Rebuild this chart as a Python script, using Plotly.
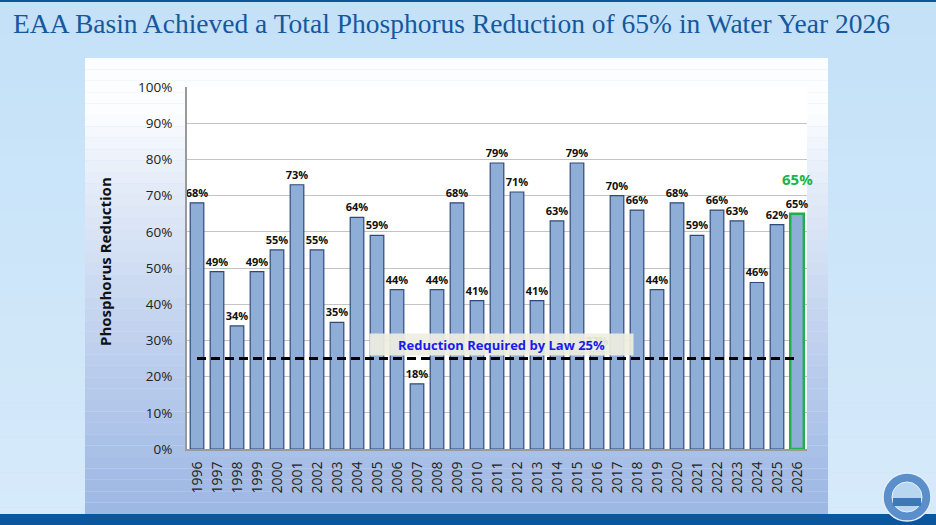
import plotly.graph_objects as go

years = [str(y) for y in range(1996, 2027)]
reduction = [68, 49, 34, 49, 55, 73, 55, 35, 64, 59, 44, 18, 44, 68, 41, 79,
             71, 41, 63, 79, 27, 70, 66, 44, 68, 59, 66, 63, 46, 62, 65]
required = 25
highlight_year = "2026"
highlight_value = 65
title_text = "EAA Basin Achieved a Total Phosphorus Reduction of 65% in Water Year 2026"
y_title = "Phosphorus Reduction"
law_text = "Reduction Required by Law 25%"

W, H = 936, 525
L, R, T, B = 187, 807, 87, 449


def px(x):
    return (x - L) / (R - L)


def py(y):
    return (B - y) / (B - T)


def lerp(c1, c2, t):
    return "rgb(%d,%d,%d)" % tuple(round(a + (b - a) * t) for a, b in zip(c1, c2))


shapes = []
# page background gradient
n = 30
for i in range(n):
    y0 = i * H / n
    y1 = (i + 1) * H / n
    shapes.append(dict(type="rect", xref="paper", yref="paper", layer="below",
                       x0=px(0), x1=px(W), y0=py(y1), y1=py(y0),
                       fillcolor=lerp((196, 225, 248), (214, 234, 250), i / (n - 1)),
                       line=dict(width=0)))
# panel gradient
m = 40
top, bot = 58, 514
for i in range(m):
    y0 = top + i * (bot - top) / m
    y1 = top + (i + 1) * (bot - top) / m
    t = i / (m - 1)
    t2 = max(0.0, (t - 0.12) / 0.88)
    shapes.append(dict(type="rect", xref="paper", yref="paper", layer="below",
                       x0=px(85), x1=px(828), y0=py(y1), y1=py(y0),
                       fillcolor=lerp((252, 253, 255), (158, 184, 228), t2 ** 0.8),
                       line=dict(width=0)))
# plot area white
shapes.append(dict(type="rect", xref="paper", yref="paper", layer="below",
                   x0=0, x1=1, y0=0, y1=1, fillcolor="white", line=dict(width=0)))
# bottom band and top line
shapes.append(dict(type="rect", xref="paper", yref="paper", layer="above",
                   x0=px(0), x1=px(W), y0=py(H), y1=py(514),
                   fillcolor="#0b579e", line=dict(width=0)))
shapes.append(dict(type="rect", xref="paper", yref="paper", layer="above",
                   x0=px(0), x1=px(W), y0=py(2), y1=py(0),
                   fillcolor="#0b579e", line=dict(width=0)))
# logo
shapes.append(dict(type="circle", xref="paper", yref="paper", layer="above",
                   x0=px(883), x1=px(931), y0=py(521), y1=py(473),
                   fillcolor="#5b8fcb", line=dict(color="#e4eef8", width=1.5)))
shapes.append(dict(type="circle", xref="paper", yref="paper", layer="above",
                   x0=px(892), x1=px(922), y0=py(512), y1=py(482),
                   fillcolor="#b9d6ef", line=dict(color="#e8f1fa", width=1)))
shapes.append(dict(type="rect", xref="paper", yref="paper", layer="above",
                   x0=px(893), x1=px(921), y0=py(506), y1=py(498),
                   fillcolor="#3f78b8", line=dict(width=0)))

bar_line_colors = ["#22b04b" if y == highlight_year else "#2e4a7a" for y in years]
bar_line_widths = [2.5 if y == highlight_year else 1.2 for y in years]
hi_idx = years.index(highlight_year)

fig = go.Figure()
fig.add_trace(go.Bar(
    x=years, y=reduction,
    marker=dict(color="#8eaed8", line=dict(color=bar_line_colors, width=bar_line_widths)),
    text=[f"{v}%" for v in reduction], textposition="outside", constraintext="none",
    textfont=dict(family="Open Sans", size=11, color="#111111", weight="bold"),
    cliponaxis=False, hoverinfo="skip", width=0.68,
))
fig.add_trace(go.Scatter(
    x=[years[0], years[-1]], y=[required, required], mode="lines",
    line=dict(color="black", width=3, dash="9px,5px"), hoverinfo="skip",
))

annotations = [
    dict(text=title_text, xref="paper", yref="paper", x=px(11), y=py(24),
         xanchor="left", yanchor="middle", showarrow=False,
         font=dict(family="Liberation Serif", size=27.5, color="#15589c")),
    dict(text=y_title, xref="paper", yref="paper", x=px(105), y=py(262),
         xanchor="center", yanchor="middle", textangle=-90, showarrow=False,
         font=dict(family="Open Sans", size=15, color="#111111", weight="bold")),
    dict(text=law_text, xref="paper", yref="paper", x=px(501), y=py(344.5),
         xanchor="center", yanchor="middle", showarrow=False,
         bgcolor="rgba(238,238,224,0.93)", width=259, height=17, borderpad=2,
         font=dict(family="Open Sans", size=13, color="#1a1aee", weight="bold")),
    dict(text=f"{highlight_value}%", xref="x", yref="y", x=hi_idx, y=74.5,
         xanchor="center", yanchor="middle", showarrow=False,
         font=dict(family="Open Sans", size=15, color="#1db34a", weight="bold")),
]

fig.update_layout(
    width=W, height=H,
    margin=dict(l=L, r=W - R, t=T, b=H - B),
    paper_bgcolor="#c8e3f8", plot_bgcolor="white",
    showlegend=False, bargap=0.32,
    shapes=shapes, annotations=annotations,
    font=dict(family="Open Sans"),
)
fig.update_xaxes(type="category", range=[-0.5, len(years) - 0.5], tickangle=-90, showgrid=False,
                 tickfont=dict(family="Open Sans", size=14, color="#222222"),
                 showline=True, linecolor="#9a9a9a", linewidth=2, ticks="", ticklabelstandoff=5)
fig.update_yaxes(range=[0, 100], dtick=10, ticksuffix="%", showgrid=True,
                 gridcolor="#c4c4c4", gridwidth=1.3, zeroline=False,
                 tickfont=dict(family="Open Sans", size=13.5, color="#222222"),
                 showline=True, linecolor="#9a9a9a", linewidth=2, ticks="", ticklabelstandoff=10)

fig.write_html("out.html", config={"displayModeBar": False},
               post_script="document.body.style.margin='0';document.body.style.overflow='hidden';")
